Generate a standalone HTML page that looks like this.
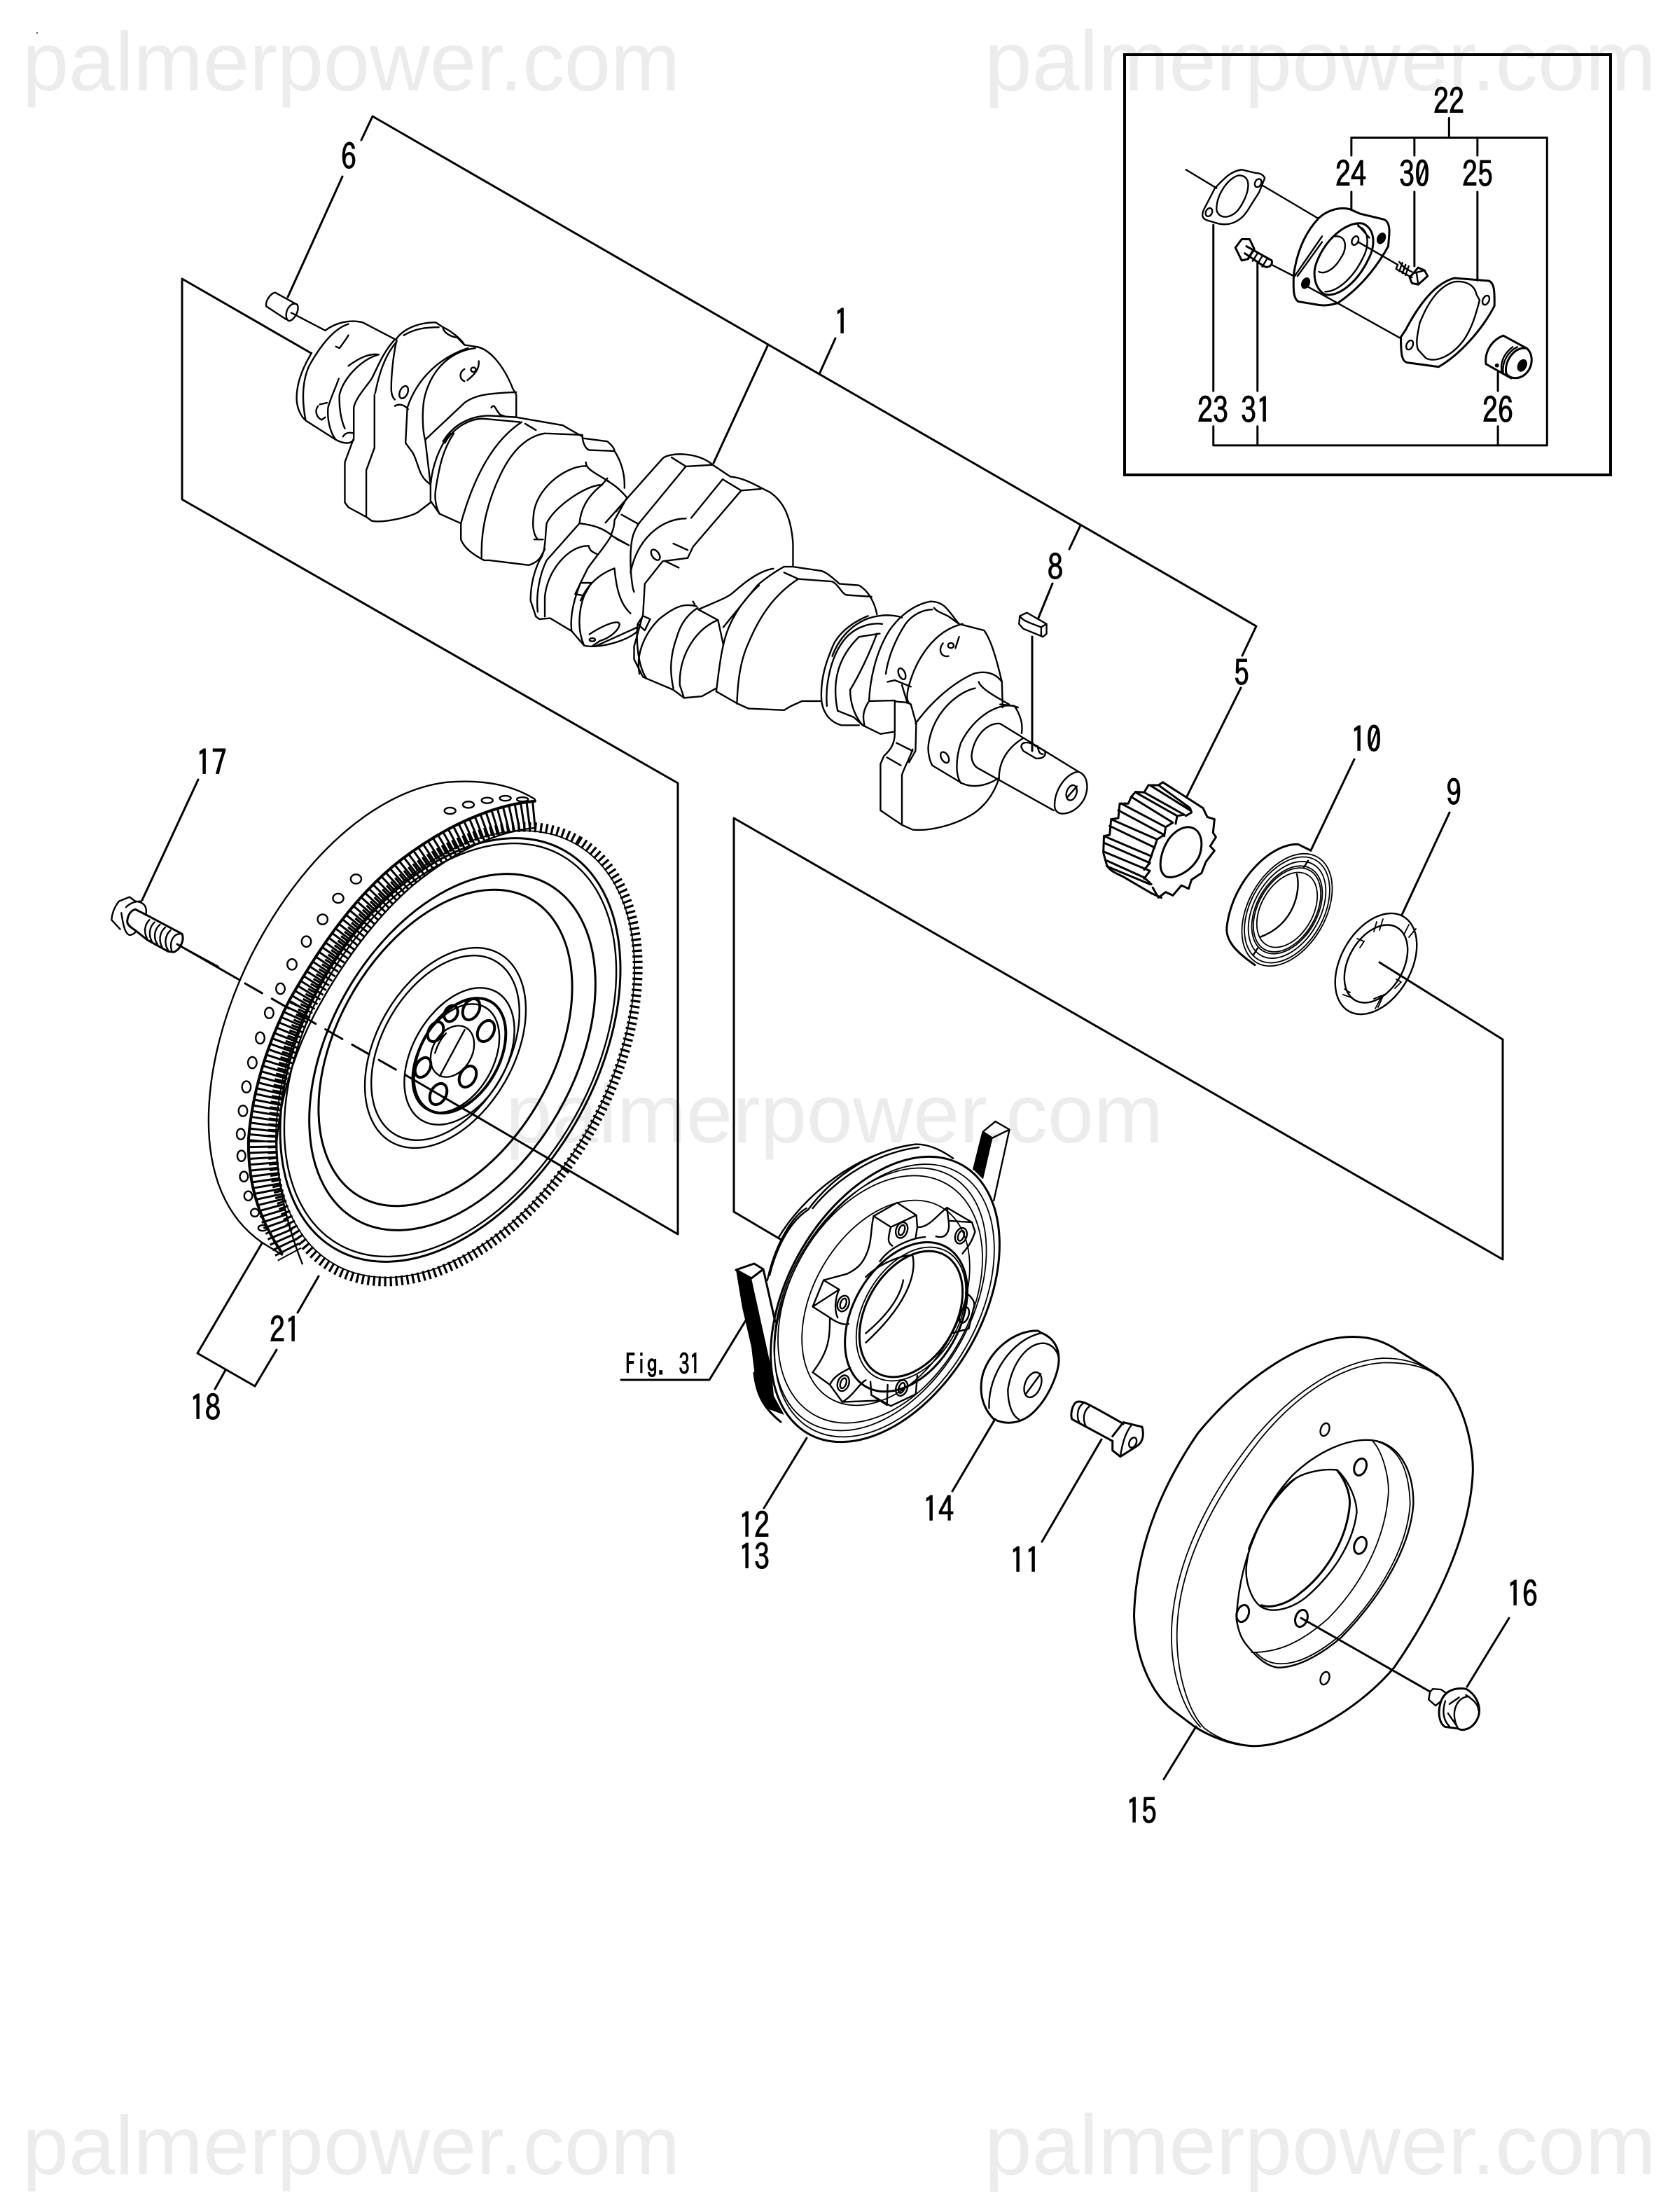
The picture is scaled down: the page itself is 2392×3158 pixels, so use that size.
<!DOCTYPE html>
<html><head><meta charset="utf-8"><style>
html,body{margin:0;padding:0;background:#fff}
svg{display:block}
svg *{vector-effect:non-scaling-stroke}
.wm{font:119px "Liberation Sans",sans-serif;fill:#ececec}
.wr{font:121.5px "Liberation Sans",sans-serif;fill:#ececec}
.l{font:50px "IPAGothic","Liberation Sans",sans-serif;fill:#000;stroke:#000;stroke-width:1;text-anchor:middle}
.p{fill:none;stroke:#000;stroke-width:2.4;stroke-linecap:round;stroke-linejoin:round}
.t{stroke-width:3}
.k{stroke-width:4}
.s{stroke-width:1.8}
</style></head><body>
<svg width="2392" height="3158" viewBox="0 0 2392 3158" xmlns="http://www.w3.org/2000/svg">
<rect width="2392" height="3158" fill="#fff"/>
<text class="wm" x="32" y="129">palmerpower.com</text>
<text class="wr" x="1406" y="129">palmerpower.com</text>
<text class="wm" x="722" y="1631">palmerpower.com</text>
<text class="wm" x="32" y="3104">palmerpower.com</text>
<text class="wr" x="1406" y="3104">palmerpower.com</text>
<rect x="52" y="46" width="2" height="2" fill="#555"/>

<!-- frames and leaders -->
<g class="p t">
<path d="M516,200L532,166L1794,894L1774,936"/>
<path d="M489,252L411,424"/>
<path d="M1096,494L1019,661M1170,534L1193,483M1543,750L1527,784"/>
<path d="M1503,833L1483,882M1474,909V1072"/>
<path d="M1772,982L1695,1137"/>
<path d="M444,504L260,398V713L968,1118V1762L595,1544"/>
<path d="M350,1404L595,1544" stroke-dasharray="28 16"/>
<path d="M253,1348L342,1399"/>
<path d="M283,1113L203,1285"/>
<path d="M374,1775L282,1932L364,1979L395,1927M322,1956L307,1983M455,1822L425,1874"/>
<path d="M887,1970H1013L1065,1885"/>
<path d="M1970,1374L2146,1484V1798L1048,1168V1730L1114,1769"/>
<path d="M2070,1160L2002,1306M1934,1084L1872,1214"/>
<path d="M1421,2026L1360,2129M1152,2053L1091,2153M1573,2055L1488,2201"/>
<path d="M1858,2310L2042,2415M2155,2310L2095,2408M1708,2465L1662,2540"/>
</g>

<!-- crank left -->
<g class="p" transform="translate(240,380) scale(.51,.459)">
<path d="M300,82C285,85 272,110 275,125L330,165M300,82L362,120C370,140 350,172 338,170C328,165 328,140 340,125C348,115 358,115 362,120M345,145L440,200"/>
<path d="M402,270C380,310 360,360 360,410C360,440 372,470 388,482L470,540C490,552 510,555 520,540M440,200C470,175 510,165 545,175L640,230M505,180C460,195 420,260 395,310C375,360 375,420 385,478"/>
<path d="M505,215C500,225 490,240 480,255L470,250M420,435C410,450 415,470 430,478L440,470M425,430L445,425M478,350C465,390 455,410 448,440C445,480 455,520 470,540M505,310C530,290 560,270 590,275M480,400C490,350 540,290 590,275M480,400C478,440 485,480 495,505M490,530C495,520 505,515 520,520"/>
<path d="M635,228C600,270 585,320 570,350C555,375 525,410 520,440L520,535L495,610L495,735L505,750L555,780L570,792C600,800 680,780 700,765L735,735"/>
<path d="M578,400L578,565L555,635L555,780M580,395C590,340 605,280 640,235"/>
<path d="M640,225C660,195 700,175 750,175L770,190C790,200 820,225 830,245L860,250C900,255 940,310 965,380L975,400L975,470"/>
<path d="M640,230C630,280 625,340 625,380C625,400 630,410 635,415M660,215C690,195 720,190 758,190M770,190C770,205 790,220 810,222L830,245"/>
<path d="M860,255C790,265 740,320 720,400C710,440 712,510 720,540M840,255C770,280 700,340 670,440L665,550L685,580C700,610 700,640 720,665L735,680M635,435C650,425 665,435 672,445"/>
<ellipse cx="660" cy="392" rx="11" ry="20" transform="rotate(20 660 392)"/>
<path d="M830,320C815,330 815,350 830,358M870,295C872,320 860,335 838,355"/><circle cx="855" cy="322" r="7"/>
<path d="M720,540L830,425C860,400 900,395 975,392M720,540L735,680L735,730L760,770L820,800M905,440C915,425 915,445 930,462L945,468L975,470"/>
<path d="M770,545C800,490 850,465 900,465L975,470L1105,495L1160,530M775,550C800,500 850,470 890,475L985,485M1000,490L1030,510"/>
<path d="M750,690C760,620 770,570 800,520M735,680C740,620 760,560 790,520M750,690C745,720 750,750 760,770"/>
<path d="M990,485C900,550 850,680 820,800L820,850C830,880 860,900 885,915L900,915L1010,930C1025,925 1040,915 1048,895L1055,880"/>
<path d="M1055,520C1000,530 960,580 930,650C900,720 875,810 878,905M1055,520L1160,525C1160,550 1170,570 1180,572L1250,575C1265,600 1280,640 1278,690M1160,535L1230,545C1240,555 1250,565 1250,575"/>
<path d="M1170,610C1170,630 1190,640 1235,670M1170,622C1120,620 1040,680 1025,760C1020,800 1020,830 1035,850M1025,850L1050,850"/>
<path d="M1230,660L1215,680C1170,680 1080,750 1060,800C1055,850 1058,890 1040,915C1025,950 1015,990 1015,1040L1030,1090L1040,1098L1070,1095L1130,1135"/>
<path d="M1230,668C1250,680 1270,700 1285,720L1250,790C1250,820 1240,830 1240,840C1225,870 1200,900 1175,940L1155,985"/>
<path d="M1215,680C1170,720 1155,760 1152,800C1190,805 1220,815 1245,840L1290,868M1152,800L1060,915C1040,960 1030,1020 1035,1075M1175,870C1120,870 1060,950 1055,1030L1055,1090M1178,870C1180,885 1190,890 1200,895"/>
<path d="M1140,1020L1155,985L1185,985L1165,1025ZM1155,985C1135,1040 1125,1090 1130,1135L1165,1180C1200,1190 1280,1170 1315,1135M1165,1025C1150,1070 1145,1130 1165,1180"/>
<path d="M1180,1145C1200,1130 1240,1105 1260,1108C1275,1115 1245,1155 1210,1165L1190,1180"/><ellipse cx="1188" cy="1162" rx="8" ry="5"/>
<path d="M1250,940C1200,960 1170,1000 1155,1040M1250,940C1255,1000 1265,1050 1295,1080"/>
</g>

<!-- crank right -->
<g class="p" transform="translate(880,620) scale(.51,.459)">
<path d="M30,200L130,75C150,55 230,55 270,95L320,132C360,135 400,165 430,180C470,210 490,260 495,340L495,410"/>
<path d="M155,72L195,100L270,95M195,100L65,275C50,300 40,320 40,390C40,430 45,480 50,490M0,240L30,200L-30,275"/>
<path d="M298,140L350,175L405,170M298,140L210,260M350,175L215,350L200,385L130,395L80,465L75,560L50,660L50,700L75,755L160,795L190,820L240,815L280,790"/>
<path d="M195,262C130,262 60,320 40,430M15,250L60,278M0,325L35,345M160,340L200,360M138,395L175,415"/>
<ellipse cx="110" cy="375" rx="10" ry="18" transform="rotate(-30 110 375)"/>
<path d="M60,590L75,565L95,575L80,610ZM60,590C55,640 60,720 85,760M-60,660L60,600"/>
<path d="M215,520L220,530M230,545C280,520 310,510 330,490C360,460 400,425 440,418M285,578L230,545M285,578C230,600 175,680 178,780L190,820"/>
<path d="M225,535C190,525 165,535 120,575C75,625 55,690 65,745M160,790C150,740 150,690 170,630C180,590 200,560 228,540"/>
<path d="M285,578L300,655C290,700 285,760 280,800L340,838L370,853L470,858L490,845L520,830L575,830"/>
<path d="M400,470C340,530 310,600 300,655M510,450C440,500 400,570 370,650C345,710 340,780 338,838M470,412C440,430 410,455 395,470L300,600"/>
<path d="M470,412L495,412L575,425C590,430 610,450 625,465L680,470C710,490 725,530 730,560M470,430L510,450L605,458C625,470 630,495 645,500L715,505"/>
<path d="M605,690C625,630 670,575 735,565C760,560 790,565 800,570M575,830C570,760 590,700 610,650C630,610 670,580 705,565M590,845C585,780 600,680 650,625C675,600 710,585 745,590M620,860C605,780 615,700 680,630L738,620M575,830C580,870 600,895 630,905L680,905"/>
<path d="M620,860L665,880L690,905L740,932L780,925M730,620C710,680 680,750 655,795C655,840 670,880 690,905M708,830L780,828M708,830C690,860 690,880 695,905"/>
<path d="M708,830C710,770 725,680 765,610C790,570 830,530 880,520C920,520 930,550 960,590M755,745C760,700 780,640 810,590C830,560 860,545 885,545"/>
<path d="M780,925L780,830M780,930C780,960 770,980 750,1000L740,1025L740,1170L800,1215L830,1230C880,1235 950,1215 1000,1180C1040,1150 1060,1110 1072,1070"/>
<path d="M830,980C825,1000 805,1040 800,1060L800,1215M785,960L830,985M758,1005L797,1030M780,830C795,835 810,830 825,840L840,900L838,985L820,1020"/>
<path d="M838,900C870,850 930,780 1000,745C1030,735 1060,740 1080,770M970,590C890,610 840,700 820,780C810,820 815,835 825,840M890,540C900,555 925,560 935,570L960,590L1030,610C1050,640 1065,700 1080,770L1082,850"/>
<path d="M915,650C900,670 910,695 930,690M960,630L950,665"/><circle cx="937" cy="657" r="8"/>
<ellipse cx="800" cy="745" rx="9" ry="18" transform="rotate(-20 800 745)"/><path d="M760,770L780,765L825,785M800,780L815,835"/>
<path d="M1005,790C960,800 890,860 875,960C870,990 880,1020 885,1030L960,1080M1015,770C1020,790 1060,815 1100,840"/>
<path d="M960,1080C980,1095 1020,1105 1070,1070M1125,850C1075,825 1000,880 965,960C950,1010 950,1060 965,1085M1075,840L1115,845C1130,870 1140,900 1135,930"/>
<ellipse cx="920" cy="1005" rx="10" ry="18" transform="rotate(-25 920 1005)"/>
<path d="M1075,900C1040,895 1000,940 995,1000C995,1020 1005,1035 1015,1040L1225,1170M1075,900L1295,1050C1320,1060 1325,1100 1310,1135C1295,1165 1270,1180 1250,1180C1235,1180 1225,1170 1228,1145C1230,1100 1265,1050 1295,1050"/>
<ellipse cx="1275" cy="1115" rx="14" ry="24" transform="rotate(15 1275 1115)"/><path d="M1262,1130L1290,1095"/>
<path d="M1140,945C1095,975 1070,1020 1072,1075M1135,975C1130,960 1150,950 1175,970L1200,985C1205,1000 1195,1010 1175,1008L1140,985ZM1180,970C1182,985 1185,995 1195,995"/>
<path d="M1130,565L1150,555L1205,590L1205,620L1195,630L1140,605L1128,590ZM1130,565C1135,575 1140,580 1190,600L1205,590M1190,600L1190,628"/>
</g>

<!-- gear 5, seal 10, shim 9 -->
<g class="p t" transform="translate(1556,1000) scale(.41,.32)">
<path d="M255,365L395,480L410,520L435,530L430,590L440,610L420,650L435,670L405,720L390,770L355,800L345,840L320,825L290,870L265,855L240,880L220,835"/>
<path d="M255,365L240,378L205,378L190,410L160,408L145,430L135,460L105,460L100,525L75,530L70,600L50,605L48,680L60,735C70,760 90,770 115,785L215,860L250,880"/>
<path d="M240,378L350,480L355,500L335,515M210,378L350,490M190,410L330,510L305,515M160,410L305,515L300,550M145,430L290,545L265,565M110,460L265,565L260,605M100,490L260,600L235,620M75,530L235,620L225,660M70,560L225,655L215,695M50,605L215,695L205,730M50,635L210,725L190,755M50,675L210,760L190,795M60,715L190,790L215,820M60,740L210,820"/>
<path d="M345,565C390,570 400,640 380,700C350,770 290,800 265,785C235,760 245,680 275,620C295,585 320,565 345,565Z"/>
</g>
<g class="p">
<g transform="rotate(-60 1838 1299)" class="s">
<ellipse cx="1838" cy="1299" rx="87" ry="55"/><ellipse cx="1838" cy="1299" rx="82" ry="52"/><ellipse cx="1838" cy="1299" rx="75" ry="47"/><ellipse cx="1838" cy="1299" rx="68" ry="43"/><ellipse cx="1838" cy="1299" rx="65" ry="41"/><ellipse cx="1838" cy="1299" rx="58" ry="37"/>
</g>
<g transform="translate(1560,1000) scale(.4,.32)">
<path class="t" d="M780,670L735,642C640,635 500,800 480,1010C475,1070 510,1120 580,1180"/>
<path d="M730,775C745,850 720,1000 600,1055M770,715L755,745M590,1105L575,1135"/>
</g>
<g transform="rotate(-60 1965 1376)"><ellipse cx="1965" cy="1376" rx="78" ry="50"/><ellipse cx="1965" cy="1376" rx="60" ry="39"/></g>
<g class="s">
<path d="M1966,1316L1962,1330M1975,1312L1970,1328M1938,1340L1948,1344L1942,1353M2012,1320L2005,1334M2022,1326L2012,1338M1920,1412L1928,1417M1918,1420L1932,1425M1962,1426L1974,1421L1964,1440M1976,1420L1968,1438M1994,1398L2001,1402L1992,1411"/>
</g>
</g>

<!-- flywheel -->
<g class="p" transform="translate(260,1080) scale(.446,.51)">
<path d="M1130,120C1050,75 950,65 850,72C650,90 400,250 220,560C130,720 85,880 85,1020C85,1170 140,1290 255,1360L320,1395"/>
<path style="stroke-width:38;stroke-dasharray:3 5;stroke-linecap:butt" d="M1130,165C1000,175 860,225 720,325C590,420 480,550 380,700C320,810 270,940 258,1075C258,1180 280,1290 345,1395"/>
<path class="k" d="M1130,125C1000,135 850,190 700,290C560,385 450,520 345,680C280,790 225,930 213,1070C210,1180 235,1280 320,1390"/>
<path style="stroke-width:2.4" d="M1130,200C1010,210 880,260 740,360C620,450 510,580 425,720C360,830 315,950 303,1080C303,1180 330,1300 385,1420"/>
<g fill="none">
<ellipse cx="858" cy="152" rx="18" ry="9"/><ellipse cx="917" cy="135" rx="18" ry="9"/><ellipse cx="977" cy="123" rx="18" ry="8"/><ellipse cx="1035" cy="117" rx="18" ry="7"/><ellipse cx="1090" cy="120" rx="18" ry="6"/>
<ellipse cx="557" cy="343" rx="17" ry="13"/><ellipse cx="500" cy="397" rx="17" ry="13"/><ellipse cx="450" cy="456" rx="16" ry="14"/><ellipse cx="398" cy="518" rx="15" ry="15"/><ellipse cx="352" cy="582" rx="15" ry="15"/><ellipse cx="315" cy="650" rx="14" ry="15"/><ellipse cx="279" cy="718" rx="14" ry="15"/><ellipse cx="250" cy="788" rx="14" ry="16"/><ellipse cx="225" cy="857" rx="14" ry="16"/><ellipse cx="206" cy="925" rx="14" ry="16"/><ellipse cx="195" cy="992" rx="14" ry="15"/><ellipse cx="188" cy="1057" rx="13" ry="15"/><ellipse cx="190" cy="1118" rx="13" ry="15"/><ellipse cx="198" cy="1176" rx="13" ry="14"/><ellipse cx="212" cy="1230" rx="13" ry="13"/><ellipse cx="233" cy="1277" rx="13" ry="11"/><ellipse cx="258" cy="1320" rx="14" ry="8"/>
</g>
<path d="M825,895L905,765M810,830C820,800 835,785 845,775"/>
</g>
<g class="p">
<g transform="rotate(-60 650 1505)">
<ellipse cx="650" cy="1505" rx="352" ry="222" style="stroke-width:14;stroke-dasharray:3.2 4.8;stroke-linecap:butt"/>
<ellipse cx="650" cy="1505" rx="346" ry="218" class="s"/>
</g>
<g transform="rotate(-60 643 1499)"><ellipse cx="643" cy="1499" rx="328" ry="207" class="t"/><ellipse cx="643" cy="1499" rx="320" ry="202"/></g>
<g transform="rotate(-60 646 1502)"><ellipse cx="646" cy="1502" rx="276" ry="174" class="t"/></g>
<g transform="rotate(-60 636 1496)"><ellipse cx="636" cy="1496" rx="245" ry="154" class="t"/><ellipse cx="636" cy="1496" rx="155" ry="98"/><ellipse cx="636" cy="1496" rx="143" ry="90"/></g>
<g transform="rotate(-60 656 1508)"><ellipse cx="656" cy="1508" rx="106" ry="67"/><ellipse cx="657" cy="1508" rx="89" ry="56" class="k"/><ellipse cx="651" cy="1505" rx="84" ry="53"/></g>
<g transform="rotate(-60 646 1501)"><ellipse cx="646" cy="1501" rx="39" ry="28"/></g>
<g class="k" fill="none">
<ellipse cx="673" cy="1441" rx="11" ry="16" transform="rotate(28 673 1441)"/><ellipse cx="694" cy="1472" rx="11" ry="16" transform="rotate(28 694 1472)"/><ellipse cx="668" cy="1537" rx="11" ry="16" transform="rotate(28 668 1537)"/><ellipse cx="626" cy="1562" rx="11" ry="16" transform="rotate(28 626 1562)"/><ellipse cx="604" cy="1524" rx="10" ry="15" transform="rotate(28 604 1524)"/><ellipse cx="622" cy="1473" rx="10" ry="15" transform="rotate(28 622 1473)"/><ellipse cx="644" cy="1447" rx="9" ry="12" transform="rotate(28 644 1447)"/>
</g>
</g>

<!-- bolt 17 -->
<g class="p" transform="translate(130,1040) scale(.3333)">
<path d="M165,722L120,740C100,765 90,790 88,820L125,860M165,722L190,740C235,745 240,770 235,800M130,790C140,860 150,880 165,885C180,885 195,870 190,870M150,765C170,745 195,740 215,740"/>
<path class="t" d="M190,775C165,780 155,810 155,830C160,850 185,860 190,865L240,905L330,955L355,958C385,945 400,905 390,880L230,795L190,775"/>
<path d="M250,820C230,840 225,870 240,900M272,830C250,850 245,885 262,915M295,840C272,860 265,895 285,925M318,852C295,872 288,905 305,938M340,865C318,885 312,920 330,950M390,880C355,875 335,910 345,950M370,925L545,1020"/>
</g>

<!-- belt -->
<path d="M1051,1813L1073,1825L1100,1947L1102,1960L1105,1993L1120,2020L1093,2010L1080,1980L1075,1940L1073,1923L1060,1867Z" fill="#000"/>
<g class="p t">
<path d="M1051,1813L1077,1804L1090,1812L1073,1825ZM1090,1812L1107,1887M1077,1960C1080,1990 1090,2010 1115,2030"/>
</g>

<!-- pulley -->
<g class="p" transform="translate(1000,1560) scale(.446,.446)">
<path d="M905,125L945,92L990,118L935,145ZM990,118L940,345M875,245L905,125"/>
<path style="fill:#000;stroke-width:1" d="M905,125L935,145L905,275L875,245Z"/>
<path d="M250,465C330,330 500,190 690,165C740,165 780,190 810,210M215,600C240,480 300,390 340,370M222,585C245,490 290,410 345,375M690,165C560,180 430,260 345,375M700,175C570,190 440,270 360,370"/>
</g>
<g class="p s">
<g transform="rotate(-60 1264 1855)"><ellipse cx="1264" cy="1855" rx="221" ry="139" class="t"/><ellipse cx="1262" cy="1855" rx="211" ry="134"/></g>
<g transform="rotate(-60 1257 1855)"><ellipse cx="1257" cy="1855" rx="203" ry="130"/><ellipse cx="1257" cy="1855" rx="190" ry="128"/></g>
<g transform="rotate(-60 1265 1860)"><ellipse cx="1265" cy="1860" rx="158" ry="104"/></g>
<g transform="rotate(-60 1301 1876)"><ellipse cx="1294" cy="1872" rx="115" ry="76" class="t"/><ellipse cx="1301" cy="1876" rx="103" ry="68"/><ellipse cx="1301" cy="1876" rx="97" ry="64" class="t"/></g>
</g>
<g class="p" transform="translate(1000,1560) scale(.446,.446)">
<path d="M555,395L630,352L692,392L695,430C730,435 760,390 790,368L870,415L880,445C865,490 850,500 840,515M555,395L610,430L692,392M610,430C600,470 600,480 615,490M695,430L690,462M790,368L795,410C800,440 790,470 755,460M795,410L870,415"/>
<path d="M555,395C545,440 550,470 535,510C520,550 500,565 470,580L395,600L445,630L360,685L415,720M395,600L360,685M445,630C430,660 430,700 440,720M415,720C440,740 470,745 475,740M415,720C415,790 410,830 360,895L415,935L455,990M415,935C430,900 470,890 480,880M455,990C490,970 510,930 530,920M455,990L580,985"/>
<path d="M545,925L548,968L610,1003L690,965L695,905M600,935L598,1000M548,968L598,1000M850,640C880,660 880,680 875,690L860,755L805,770M575,540C610,490 680,465 720,462"/>
<path d="M530,590C570,550 640,520 680,520C695,590 650,690 530,800M530,770C590,720 640,660 650,600"/>
<g fill="none">
<ellipse cx="645" cy="440" rx="18" ry="26" transform="rotate(20 645 440)"/><ellipse cx="645" cy="440" rx="9" ry="17" transform="rotate(20 645 440)"/>
<ellipse cx="835" cy="458" rx="18" ry="26" transform="rotate(20 835 458)"/><ellipse cx="835" cy="458" rx="9" ry="17" transform="rotate(20 835 458)"/>
<ellipse cx="845" cy="712" rx="14" ry="26" transform="rotate(20 845 712)"/>
<ellipse cx="645" cy="945" rx="18" ry="26" transform="rotate(20 645 945)"/><ellipse cx="645" cy="945" rx="9" ry="17" transform="rotate(20 645 945)"/>
<ellipse cx="458" cy="930" rx="18" ry="26" transform="rotate(20 458 930)"/><ellipse cx="458" cy="930" rx="9" ry="17" transform="rotate(20 458 930)"/>
<ellipse cx="458" cy="675" rx="18" ry="26" transform="rotate(20 458 675)"/><ellipse cx="458" cy="675" rx="9" ry="17" transform="rotate(20 458 675)"/>
</g>
</g>

<!-- washer 14, bolt 11 -->
<g class="p" transform="translate(1000,1560) scale(.446,.446)">
<path class="t" d="M940,1045C905,1010 890,960 905,900C930,820 1010,760 1080,762L1095,770C1130,785 1148,815 1148,850C1150,890 1120,970 1070,1020C1030,1060 980,1065 940,1045"/>
<path d="M925,1010C920,900 1000,790 1090,770M1100,802C1050,800 1000,860 985,950C985,1000 1000,1035 1020,1045M1100,802C1130,805 1145,830 1148,850"/>
<ellipse cx="1065" cy="935" rx="25" ry="42" transform="rotate(22 1065 935)"/><path d="M1042,965L1090,900"/>
<path class="t" d="M1205,990C1190,1000 1185,1030 1190,1045L1320,1115L1320,1145L1345,1165L1400,1130C1420,1115 1420,1090 1415,1070L1355,1055L1320,1100M1205,990C1225,985 1240,995 1355,1060"/>
<path d="M1225,995C1205,1010 1205,1040 1215,1058M1245,1005C1225,1020 1225,1050 1235,1068M1380,1065C1360,1090 1350,1130 1345,1165"/>
<ellipse cx="1385" cy="1120" rx="11" ry="17" transform="rotate(25 1385 1120)"/>
</g>

<!-- damper 15 -->
<g class="p" transform="translate(1580,1860) scale(.395,.434)">
<path class="t" d="M1195,235C1260,280 1325,420 1325,550C1320,720 1230,950 1040,1200C900,1350 670,1460 530,1458C470,1455 400,1440 320,1395L240,1340C170,1290 105,1180 100,1030C105,830 180,630 330,430C500,240 720,115 880,112C960,110 1010,130 1060,160L1195,235"/>
<path class="s" d="M1195,240C1130,190 1050,182 1000,182C850,190 680,290 540,440C380,620 240,850 235,1090C235,1230 280,1340 340,1395"/>
<path class="s" d="M1190,235C1130,200 1050,196 1000,197C850,205 690,300 555,450C400,630 255,860 255,1095C255,1230 300,1350 355,1400C400,1430 440,1445 480,1450"/>
<path d="M960,452C1050,460 1110,540 1110,660C1100,800 1000,960 850,1100C760,1170 680,1200 620,1200C580,1195 550,1170 525,1145M960,452C870,445 760,490 670,570C560,680 480,850 470,1040C480,1100 500,1120 525,1145"/>
<path class="s" d="M960,452C1070,470 1095,570 1098,660C1090,800 990,960 850,1090C760,1160 690,1185 640,1187C590,1190 560,1170 540,1150M960,452C1000,490 1020,570 1020,620C1010,780 920,930 800,1040C700,1120 620,1150 525,1150"/>
<path d="M835,550C880,590 905,650 905,690C890,800 810,900 720,970C670,1005 610,1020 570,1005C530,990 505,930 505,880C510,780 580,660 680,580C720,555 790,545 835,550"/>
<path class="t" d="M835,552C860,580 880,620 880,660C870,790 780,900 700,955C650,995 590,1005 560,995M515,810C560,700 620,620 680,580"/>
<ellipse cx="790" cy="417" rx="15" ry="22" transform="rotate(25 790 417)"/><ellipse cx="790" cy="1235" rx="15" ry="22" transform="rotate(25 790 1235)"/>
<g class="t">
<ellipse cx="918" cy="540" rx="21" ry="29" transform="rotate(25 918 540)"/><ellipse cx="918" cy="798" rx="21" ry="29" transform="rotate(25 918 798)"/><ellipse cx="493" cy="1022" rx="21" ry="29" transform="rotate(25 493 1022)"/><ellipse cx="705" cy="1038" rx="21" ry="29" transform="rotate(25 705 1038)"/>
</g>
<path d="M1170,1280L1180,1270L1210,1272L1230,1285M1170,1280L1165,1305L1190,1325L1210,1310"/>
<path class="t" d="M1300,1270C1340,1290 1355,1330 1345,1360C1330,1400 1290,1412 1270,1400L1225,1395C1205,1385 1195,1350 1210,1310C1225,1275 1260,1265 1300,1270"/>
<path d="M1300,1290C1325,1305 1345,1320 1345,1340M1310,1295C1270,1295 1240,1345 1270,1398M1240,1320L1275,1298M1235,1350L1265,1390M1225,1310C1215,1340 1215,1370 1240,1393"/>
</g>

<!-- inset -->
<rect x="1606" y="78" width="694" height="600" fill="none" stroke="#000" stroke-width="4"/>
<g class="p" transform="translate(1600,60) scale(.45,.405)">
<path class="t" d="M1043,268V337M733,400V337H1354V1422H295V1355M933,337V400M1133,337V400M435,1355V1422M1198,1355V1422M295,645V1230M435,780V1230M1198,1165V1230M733,528V590M933,528V790M1133,528V840"/>
<path d="M385,450C350,455 330,480 300,515L265,590C255,615 262,625 280,630L310,640C350,650 380,630 400,600L440,530L458,480C455,470 445,462 430,462Z"/>
<path d="M375,470C340,480 305,540 305,590C310,625 350,625 375,590C405,545 425,470 375,470Z"/>
<ellipse cx="281" cy="600" rx="10" ry="15" transform="rotate(20 281 600)"/><ellipse cx="437" cy="497" rx="10" ry="15" transform="rotate(20 437 497)"/>
<path d="M208,450L305,515M450,505L625,620"/>
<path class="t" d="M630,620C660,590 700,580 730,590L760,605L835,625C850,630 855,650 853,680L850,720C820,780 770,860 690,920C660,930 640,930 620,925L565,915C550,905 548,880 550,820C555,780 570,690 630,620"/>
<path d="M550,830L640,685M562,825L640,705"/>
<path class="t" d="M770,640C810,660 810,720 785,770C750,850 690,900 650,890C620,875 605,820 625,770C655,690 720,630 770,640Z"/>
<path d="M755,650C790,660 790,720 770,760C740,830 690,880 650,880M680,685C720,680 720,730 700,760C680,800 650,820 630,810M750,640L790,690"/>
<ellipse cx="828" cy="692" rx="11" ry="18" transform="rotate(20 828 692)" fill="#000"/><ellipse cx="588" cy="850" rx="11" ry="18" transform="rotate(20 588 850)" fill="#000"/><ellipse cx="745" cy="700" rx="10" ry="16" transform="rotate(20 745 700)"/>
<path d="M755,705L880,785M590,860L640,890L890,1045"/>
<path d="M880,785L875,800L925,830M885,775C895,790 905,800 925,810M895,778L885,808M905,785L895,815M915,790L905,822"/>
<path class="t" d="M945,795L965,805L975,825L945,855L925,850L918,830Z"/><path d="M930,815L965,805M940,815L945,855"/>
<path class="t" d="M385,695L365,725L385,770L405,765L425,730L410,695Z"/>
<path class="t" d="M400,720L480,770C485,785 470,800 455,790L395,745"/>
<path d="M420,735L405,762M435,745L420,772M450,755L435,782M465,765L450,792M480,785L550,825"/>
<path class="t" d="M1060,832L1170,842C1185,850 1188,870 1187,930C1150,1010 1080,1100 1010,1145L910,1130C895,1125 890,1110 890,1040L905,1015C950,920 1000,850 1060,832Z"/>
<path d="M1060,845C1100,840 1125,860 1130,890L1140,910C1130,950 1120,1000 1090,1050C1050,1110 1000,1130 970,1115L945,1085C935,1060 945,1020 950,990C975,920 1010,860 1060,845Z"/>
<ellipse cx="1160" cy="910" rx="10" ry="17" transform="rotate(20 1160 910)"/><ellipse cx="918" cy="1068" rx="10" ry="17" transform="rotate(20 918 1068)"/>
<path class="t" d="M1215,1035L1290,1080C1310,1100 1310,1140 1290,1165C1270,1190 1240,1190 1225,1170C1215,1130 1250,1070 1290,1080M1215,1035C1180,1050 1155,1090 1160,1135L1240,1185"/>
<path d="M1260,1075C1230,1090 1210,1130 1215,1165M1245,1075C1220,1095 1205,1125 1210,1160"/>
<ellipse cx="1275" cy="1140" rx="12" ry="20" transform="rotate(20 1275 1140)" fill="#000"/><circle cx="1195" cy="1140" r="4" fill="#000"/>
</g>

<!-- labels -->
<g>
<text class="l" x="498" y="242" textLength="22" lengthAdjust="spacingAndGlyphs">6</text>
<text class="l" x="1202" y="478" textLength="22" lengthAdjust="spacingAndGlyphs">1</text>
<text class="l" x="1507" y="828" textLength="22" lengthAdjust="spacingAndGlyphs">8</text>
<text class="l" x="1773" y="979" textLength="22" lengthAdjust="spacingAndGlyphs">5</text>
<text class="l" x="1951" y="1074" textLength="44" lengthAdjust="spacingAndGlyphs">10</text>
<text class="l" x="2076" y="1150" textLength="22" lengthAdjust="spacingAndGlyphs">9</text>
<text class="l" x="302" y="1107" textLength="44" lengthAdjust="spacingAndGlyphs">17</text>
<text class="l" x="407" y="1917" textLength="44" lengthAdjust="spacingAndGlyphs">21</text>
<text class="l" x="293" y="2028" textLength="44" lengthAdjust="spacingAndGlyphs">18</text>
<text class="l" x="1077" y="2196" textLength="44" lengthAdjust="spacingAndGlyphs">12</text>
<text class="l" x="1077" y="2241" textLength="44" lengthAdjust="spacingAndGlyphs">13</text>
<text class="l" x="1340" y="2173" textLength="44" lengthAdjust="spacingAndGlyphs">14</text>
<text class="l" x="1464" y="2246" textLength="44" lengthAdjust="spacingAndGlyphs">11</text>
<text class="l" x="1630" y="2604" textLength="44" lengthAdjust="spacingAndGlyphs">15</text>
<text class="l" x="2174" y="2294" textLength="44" lengthAdjust="spacingAndGlyphs">16</text>
<text class="l" x="2069" y="163" textLength="44" lengthAdjust="spacingAndGlyphs">22</text>
<text class="l" x="1929" y="267" textLength="44" lengthAdjust="spacingAndGlyphs">24</text>
<text class="l" x="2020" y="267" textLength="44" lengthAdjust="spacingAndGlyphs">30</text>
<text class="l" x="2110" y="267" textLength="44" lengthAdjust="spacingAndGlyphs">25</text>
<text class="l" x="1732" y="604" textLength="44" lengthAdjust="spacingAndGlyphs">23</text>
<text class="l" x="1794" y="604" textLength="44" lengthAdjust="spacingAndGlyphs">31</text>
<text class="l" x="2139" y="604" textLength="44" lengthAdjust="spacingAndGlyphs">26</text>
<text x="893" y="1962" textLength="107" lengthAdjust="spacingAndGlyphs" style="font:40px 'IPAGothic','Liberation Sans',sans-serif;fill:#000;stroke:#000;stroke-width:1">Fig. 31</text>
</g>
</svg>
</body></html>
